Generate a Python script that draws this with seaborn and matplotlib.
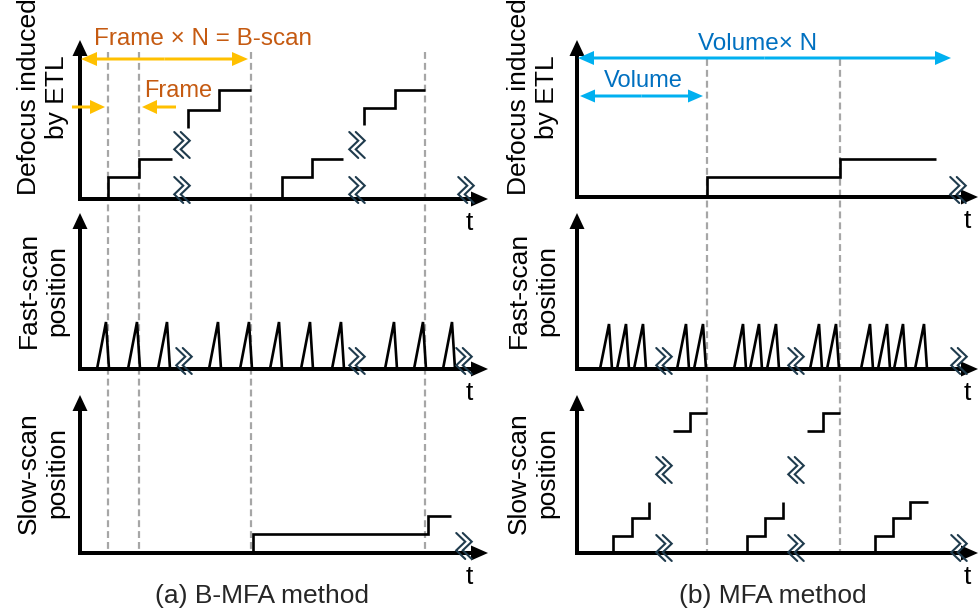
import numpy as np
import pandas as pd
import matplotlib
matplotlib.use("Agg")
import matplotlib.pyplot as plt
import seaborn as sns
from matplotlib.patches import FancyArrowPatch, ArrowStyle

sns.set_theme(style="white")
plt.rcParams["font.family"] = ["Liberation Sans", "DejaVu Sans"]

# ------------------------------------------------------------------ data
# time axis of every panel is measured from its own origin (px-like units)
# (a) B-MFA : defocus induced by ETL  (staircases, one per B-scan part)
ETL_A_BASE = [0, 71, 0, 74]
ETL_A_EDGES = [[28, 59, 92], [108, 139, 171], [202, 232, 263], [284, 315, 345]]
ETL_A_LEVELS = [[22, 40], [89, 109], [22, 40], [91, 109]]
# (b) MFA : defocus induced by ETL
ETL_B_BASE = [0]
ETL_B_EDGES = [[130, 263, 359]]
ETL_B_LEVELS = [[20, 38]]
# fast-scan ramps (peak times) and amplitude
FAST_A_PEAKS = [26, 57, 87, 138, 169, 199, 230, 261, 314, 343, 372]
FAST_B_PEAKS = [32, 49, 66, 109, 126, 166, 182, 199, 242, 259, 293, 310, 326, 347]
FAST_A_AMP = 47
FAST_B_AMP = 45
RAMP_RISE, RAMP_FALL = 9, 3
# slow-scan position
SLOW_A_BASE = [0]
SLOW_A_EDGES = [[173, 348, 371]]
SLOW_A_LEVELS = [[19, 37]]
SLOW_B_BASE = [0, None, 0, None, 0]
SLOW_B_EDGES = [[36, 55, 72, 72], [96, 113, 130], [170, 188, 206, 206],
                [230, 246, 263], [298, 316, 333, 351]]
SLOW_B_LEVELS = [[17, 35, 51], [122, 140], [17, 35, 51], [122, 140], [17, 35, 51]]
# boundaries (dashed) : frames / B-scans in (a), volumes in (b)
DASH_A_T = [28, 59, 171, 345]
DASH_B_T = [130, 263]
# axis-break marks (t, level) per panel
BRK_A_ETL = [(102, 54), (102, 9), (277, 54), (277, 9), (386, 9)]
BRK_A_FAST = [(104, 8), (277, 8), (384, 8)]
BRK_A_SLOW = [(384, 7)]
BRK_B_ETL = [(381, 7)]
BRK_B_FAST = [(87, 8), (219, 8), (382, 8)]
BRK_B_SLOW = [(87, 83), (87, 5), (219, 83), (219, 5), (382, 5)]

YLABELS = ["Defocus induced\nby ETL", "Fast-scan\nposition", "Slow-scan\nposition"]
XLABEL = "t"
TITLES = ["(a) B-MFA method", "(b) MFA method"]
ANN_A = ["Frame \u00d7 N = B-scan", "Frame"]
ANN_B = ["Volume\u00d7 N", "Volume"]

# ------------------------------------------------------------------ layout
W, H = 979, 611
fig = plt.figure(figsize=(W / 100, H / 100), dpi=100)
fig.patch.set_facecolor("white")

# panel geometry in pixels: origin x, origin y, arrow tip x, arrow tip y
GEOM = {
    ("a", 0): (80, 199, 488, 40), ("a", 1): (80, 369, 488, 213), ("a", 2): (80, 553, 488, 395),
    ("b", 0): (577, 197, 978, 40), ("b", 1): (577, 369, 978, 213), ("b", 2): (577, 553, 978, 395),
}

PX_PER_UNIT = 100 / 72 * 10  # mutation_scale 10 pt


def overlay():
    ax = fig.add_axes([0, 0, 1, 1])
    ax.set_xlim(0, W)
    ax.set_ylim(H, 0)
    ax.axis("off")
    ax.patch.set_alpha(0)
    return ax


def arrow(ax, x0, y0, x1, y1, color, tail, hl, hw, z=3):
    st = ArrowStyle.Simple(head_length=hl / PX_PER_UNIT, head_width=hw / PX_PER_UNIT,
                           tail_width=tail / PX_PER_UNIT)
    p = FancyArrowPatch((x0, y0), (x1, y1), arrowstyle=st, mutation_scale=10,
                        lw=0, color=color, shrinkA=0, shrinkB=0, zorder=z)
    ax.add_patch(p)


def darrow(ax, x0, x1, y, color, tail=3, hl=16, hw=14):
    xm = (x0 + x1) / 2
    arrow(ax, xm, y, x0, y, color, tail, hl, hw)
    arrow(ax, xm, y, x1, y, color, tail, hl, hw)


back = overlay()

# dashed boundaries
for t in DASH_A_T:
    x = GEOM[("a", 0)][0] + t
    back.plot([x, x], [52, 553], color="#A6A6A6", lw=1.6, dashes=(3.1, 1.8), zorder=1)
for t in DASH_B_T:
    x = GEOM[("b", 0)][0] + t
    back.plot([x, x], [59, 553], color="#A6A6A6", lw=1.6, dashes=(3.1, 1.8), zorder=1)

# axes with arrow heads
for (side, row), (ox, oy, tx, ty) in GEOM.items():
    arrow(back, ox - 2, oy, tx, oy, "black", 4, 17, 15, z=2)
    arrow(back, ox, oy + 2, ox, ty, "black", 4, 16, 15, z=2)


def panel(key):
    ox, oy, tx, ty = GEOM[key]
    ax = fig.add_axes([ox / W, 1 - oy / H, (tx - ox) / W, (oy - ty) / H])
    ax.patch.set_alpha(0)
    return ax


def finish(ax, key):
    ox, oy, tx, ty = GEOM[key]
    ax.set_xlim(0, tx - ox)
    ax.set_ylim(0, oy - ty)
    ax.axis("off")


def stair_df(bases, edges, levels):
    rows = []
    for k, (b, e, lv) in enumerate(zip(bases, edges, levels)):
        pts = []
        if b is not None:
            pts.append((e[0], b))
        for i, v in enumerate(lv):
            pts.append((e[i], v))
            pts.append((e[i + 1], v))
        for t, v in pts:
            rows.append({"t": t, "v": v, "seg": k})
    return pd.DataFrame(rows)


def ramp_df(peaks, amp):
    rows = []
    for k, p in enumerate(peaks):
        for t, v in [(p - RAMP_RISE, 0), (p, amp), (p + RAMP_FALL, 0)]:
            rows.append({"t": t, "v": v, "seg": k})
    return pd.DataFrame(rows)


def draw(ax, df, lw=1.9):
    sns.lineplot(data=df, x="t", y="v", units="seg", estimator=None, sort=False,
                 color="black", lw=lw, ax=ax, legend=False, zorder=4,
                 solid_joinstyle="miter", solid_capstyle="butt")
    for ln in ax.lines:
        ln.set_clip_on(False)


def breaks(ax, marks, w=9, h=26, off=6.5):
    for cx, cy in marks:
        for dx in (-off / 2, off / 2):
            xs = cx + dx + np.array([-w / 2, w / 2, -w / 2, w / 2])
            ys = cy + np.array([h / 2, h / 6, -h / 6, -h / 2])
            ax.plot(xs, ys, color="#1F3B4D", lw=1.5, clip_on=False, zorder=6,
                    solid_joinstyle="miter")


specs = {
    ("a", 0): (stair_df(ETL_A_BASE, ETL_A_EDGES, ETL_A_LEVELS), BRK_A_ETL),
    ("a", 1): (ramp_df(FAST_A_PEAKS, FAST_A_AMP), BRK_A_FAST),
    ("a", 2): (stair_df(SLOW_A_BASE, SLOW_A_EDGES, SLOW_A_LEVELS), BRK_A_SLOW),
    ("b", 0): (stair_df(ETL_B_BASE, ETL_B_EDGES, ETL_B_LEVELS), BRK_B_ETL),
    ("b", 1): (ramp_df(FAST_B_PEAKS, FAST_B_AMP), BRK_B_FAST),
    ("b", 2): (stair_df(SLOW_B_BASE, SLOW_B_EDGES, SLOW_B_LEVELS), BRK_B_SLOW),
}
for key, (df, marks) in specs.items():
    ax = panel(key)
    draw(ax, df)
    breaks(ax, marks)
    finish(ax, key)

front = overlay()

# labels
LAB_Y = [97, 290, 473]
for side, lx in (("a", 43), ("b", 533)):
    for row in range(3):
        front.text(lx, LAB_Y[row], YLABELS[row], rotation=90, ha="center", va="center",
                   multialignment="center", linespacing=1.25, fontsize=19, color="black")
        ox, oy, tx, ty = GEOM[(side, row)]
        front.text(tx - 19 if side == "a" else tx - 11, oy + 31, XLABEL, ha="center",
                   va="baseline", fontsize=19, color="black")

front.text(262, 603, TITLES[0], ha="center", va="baseline", fontsize=19)
front.text(773, 603, TITLES[1], ha="center", va="baseline", fontsize=19)

# annotations (a)
ORANGE, ORANGE_TXT = "#FFC000", "#C55A11"
BLUE, BLUE_TXT = "#00B0F0", "#0070C0"
darrow(front, 81, 248, 59, ORANGE)
front.text(203, 45, ANN_A[0], ha="center", va="baseline", fontsize=17.5, color=ORANGE_TXT)
front.text(178, 97, ANN_A[1], ha="center", va="baseline", fontsize=17, color=ORANGE_TXT)
arrow(front, 72, 107, 105, 107, ORANGE, 3, 15, 14)
arrow(front, 176, 107, 142, 107, ORANGE, 3, 15, 14)

# annotations (b)
darrow(front, 578, 951, 58, BLUE)
front.text(758, 50, ANN_B[0], ha="center", va="baseline", fontsize=17.5, color=BLUE_TXT)
darrow(front, 580, 703, 96, BLUE, hl=15, hw=13)
front.text(643, 87, ANN_B[1], ha="center", va="baseline", fontsize=17, color=BLUE_TXT)

fig.savefig("out.png", dpi=100)
